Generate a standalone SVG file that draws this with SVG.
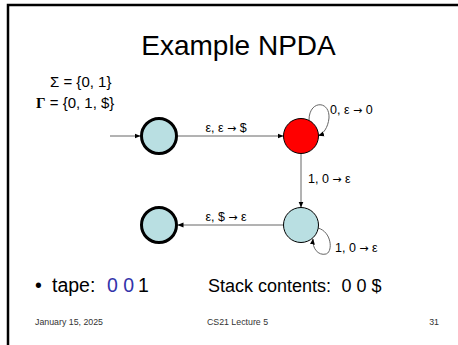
<svg xmlns="http://www.w3.org/2000/svg" width="458" height="345" viewBox="0 0 458 345">
<style>
text{font-family:"Liberation Sans",Arial,sans-serif;fill:#000}
.lbl{font-size:12.5px}
.ar{font-family:"DejaVu Sans",sans-serif;font-size:11px}
.st{stroke:#000;stroke-width:1}
.acc{stroke:#000;stroke-width:3}
.blue{fill:#b9dfe2}
.edge{fill:none;stroke:#666;stroke-width:1}
.foot{font-size:8.8px;fill:#333}
.tp{font-size:19.5px}
text.bt{fill:#3333aa}
.sk{font-size:18px}
</style>
<defs>
<marker id="ah" markerWidth="6" markerHeight="6" refX="5.5" refY="3" orient="auto" markerUnits="userSpaceOnUse">
<path d="M0,0.5 L6,3 L0,5.5 Z" fill="#000"/>
</marker>
</defs>
<rect x="0" y="0" width="458" height="345" fill="#fff"/>
<path d="M8,345 V5 H458" fill="none" stroke="#000" stroke-width="2.5"/>
<text x="238.5" y="55" font-size="28" text-anchor="middle">Example NPDA</text>
<text x="50" y="87" font-size="15">Σ = {0, 1}</text>
<text x="36" y="108" font-size="15"><tspan font-family="Liberation Serif" font-weight="bold">Γ</tspan> = {0, 1, $}</text>
<g id="connectors">
<path class="edge" d="M110,136 H140" marker-end="url(#ah)"/>
<path class="edge" d="M178,136 H283" marker-end="url(#ah)"/>
<path class="edge" d="M309,120 C309,100 330,100 329,118 C328,128 323,134 318.5,135.5" marker-end="url(#ah)"/>
<path class="edge" d="M301,154 V207" marker-end="url(#ah)"/>
<path class="edge" d="M283,225 H178" marker-end="url(#ah)"/>
<path class="edge" d="M318,228 C332,232 333,252 326,254 C318,256 312,248 313,239" marker-end="url(#ah)"/>
</g>
<text class="lbl" x="226" y="132" text-anchor="middle">ε, ε <tspan class="ar">→</tspan> $</text>
<text class="lbl" x="330" y="114">0, ε <tspan class="ar">→</tspan> 0</text>
<text class="lbl" x="308" y="183">1, 0 <tspan class="ar">→</tspan> ε</text>
<text class="lbl" x="226" y="221" text-anchor="middle">ε, $ <tspan class="ar">→</tspan> ε</text>
<text class="lbl" x="335" y="252">1, 0 <tspan class="ar">→</tspan> ε</text>
<g id="q0"><circle class="blue acc" cx="159" cy="136" r="17.5"/></g>
<g id="q1"><circle class="st" cx="301" cy="136" r="17.5" fill="#ff0000"/></g>
<g id="q2"><circle class="blue st" cx="301" cy="225" r="17.5"/></g>
<g id="q3"><circle class="blue acc" cx="159" cy="225" r="17.5"/></g>
<text class="tp" x="35" y="292">•</text>
<text class="tp" x="52" y="292">tape:</text>
<text class="tp bt" x="107" y="292">0 0</text>
<text class="tp" x="138" y="292">1</text>
<text class="sk" x="208" y="292">Stack contents:</text>
<text class="sk" x="341.5" y="292">0 0 $</text>
<text class="foot" x="35" y="325">January 15, 2025</text>
<text class="foot" x="237.5" y="325" text-anchor="middle">CS21 Lecture 5</text>
<text class="foot" x="439" y="325" text-anchor="end">31</text>
</svg>
